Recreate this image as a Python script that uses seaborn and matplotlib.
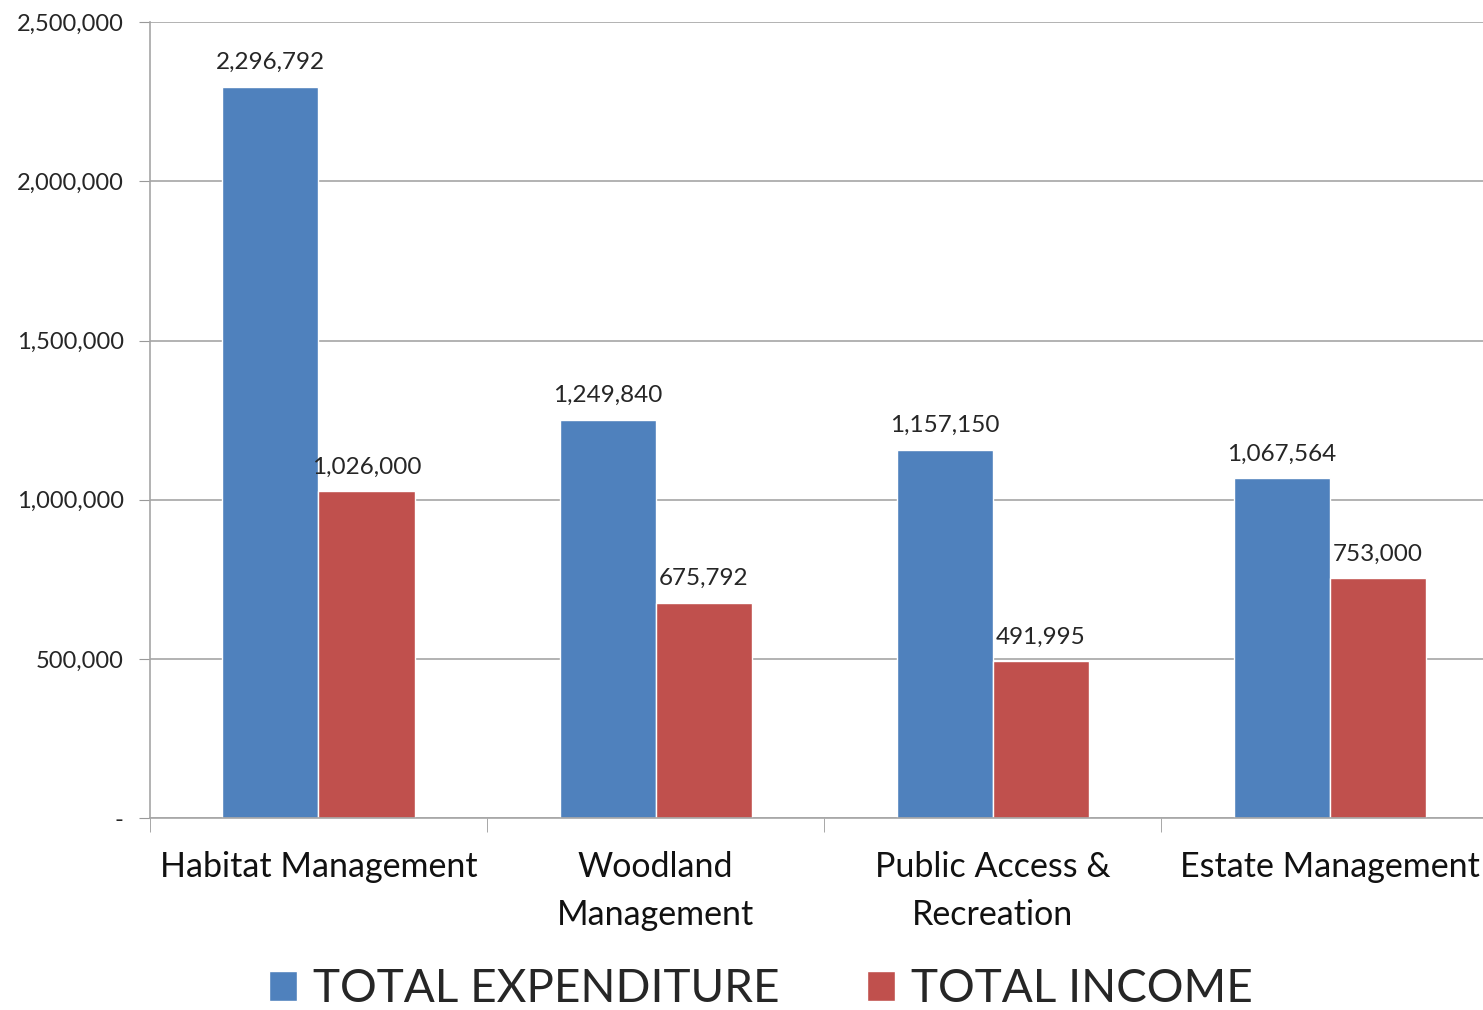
import pandas as pd
import seaborn as sns
import matplotlib.pyplot as plt
from matplotlib.ticker import FuncFormatter

# chart values
categories = ['Habitat Management', 'Woodland\nManagement', 'Public Access &\nRecreation', 'Estate Management']
expenditure = [2296792, 1249840, 1157150, 1067564]
income = [1026000, 675792, 491995, 753000]
series = ['TOTAL EXPENDITURE', 'TOTAL INCOME']
colors = ['#4F81BD', '#C0504D']
yticks = [0, 500000, 1000000, 1500000, 2000000, 2500000]

# long table for seaborn
df = pd.DataFrame({
    'category': categories * 2,
    'series': [series[0]] * 4 + [series[1]] * 4,
    'value': expenditure + income,
})

sns.set_style('white')
plt.rcParams['font.family'] = ['Lato', 'DejaVu Sans']

fig = plt.figure(figsize=(14.83, 10.10), dpi=100)
ax = fig.add_axes([0.1011, 0.190, 0.899, 0.788])

sns.barplot(data=df, x='category', y='value', hue='series', order=categories,
            hue_order=series, palette=colors, width=0.57, gap=0, saturation=1,
            errorbar=None, ax=ax, legend=True)

# data labels on each bar
for cont in ax.containers:
    ax.bar_label(cont, labels=[f'{v:,.0f}' for v in cont.datavalues],
                 padding=10, fontsize=17.5, color='#262626')

ax.set_ylim(0, 2500000)
ax.set_xlim(-0.5, 3.455)
ax.set_yticks(yticks)
ax.yaxis.set_major_formatter(FuncFormatter(lambda v, p: '-' if v == 0 else f'{v:,.0f}'))
ax.tick_params(axis='y', labelsize=17, labelcolor='#262626', length=8, color='#999999', pad=11, left=True)

# categories centred, tick marks on the boundaries
ax.set_xticks(range(4))
ax.set_xticklabels(categories, fontsize=24.5, color='#111111', linespacing=1.6)
ax.tick_params(axis='x', length=0, pad=24)
ax.set_xticks([-0.5, 0.5, 1.5, 2.5], minor=True)
ax.tick_params(axis='x', which='minor', length=10, color='#999999', bottom=True)

ax.grid(axis='y', color='#A6A6A6', linewidth=1.2)
ax.set_axisbelow(True)
ax.set_xlabel('')
ax.set_ylabel('')
for s in ['top', 'right']:
    ax.spines[s].set_visible(False)
for s in ['left', 'bottom']:
    ax.spines[s].set_color('#A6A6A6')
    ax.spines[s].set_linewidth(1.2)

leg = ax.legend(loc='center', bbox_to_anchor=(0.513, 0.021), bbox_transform=fig.transFigure,
                ncol=2, frameon=False, handlelength=0.62, handleheight=0.62,
                handletextpad=0.35, columnspacing=1.9, fontsize=33)

fig.savefig('out.png', dpi=100)
